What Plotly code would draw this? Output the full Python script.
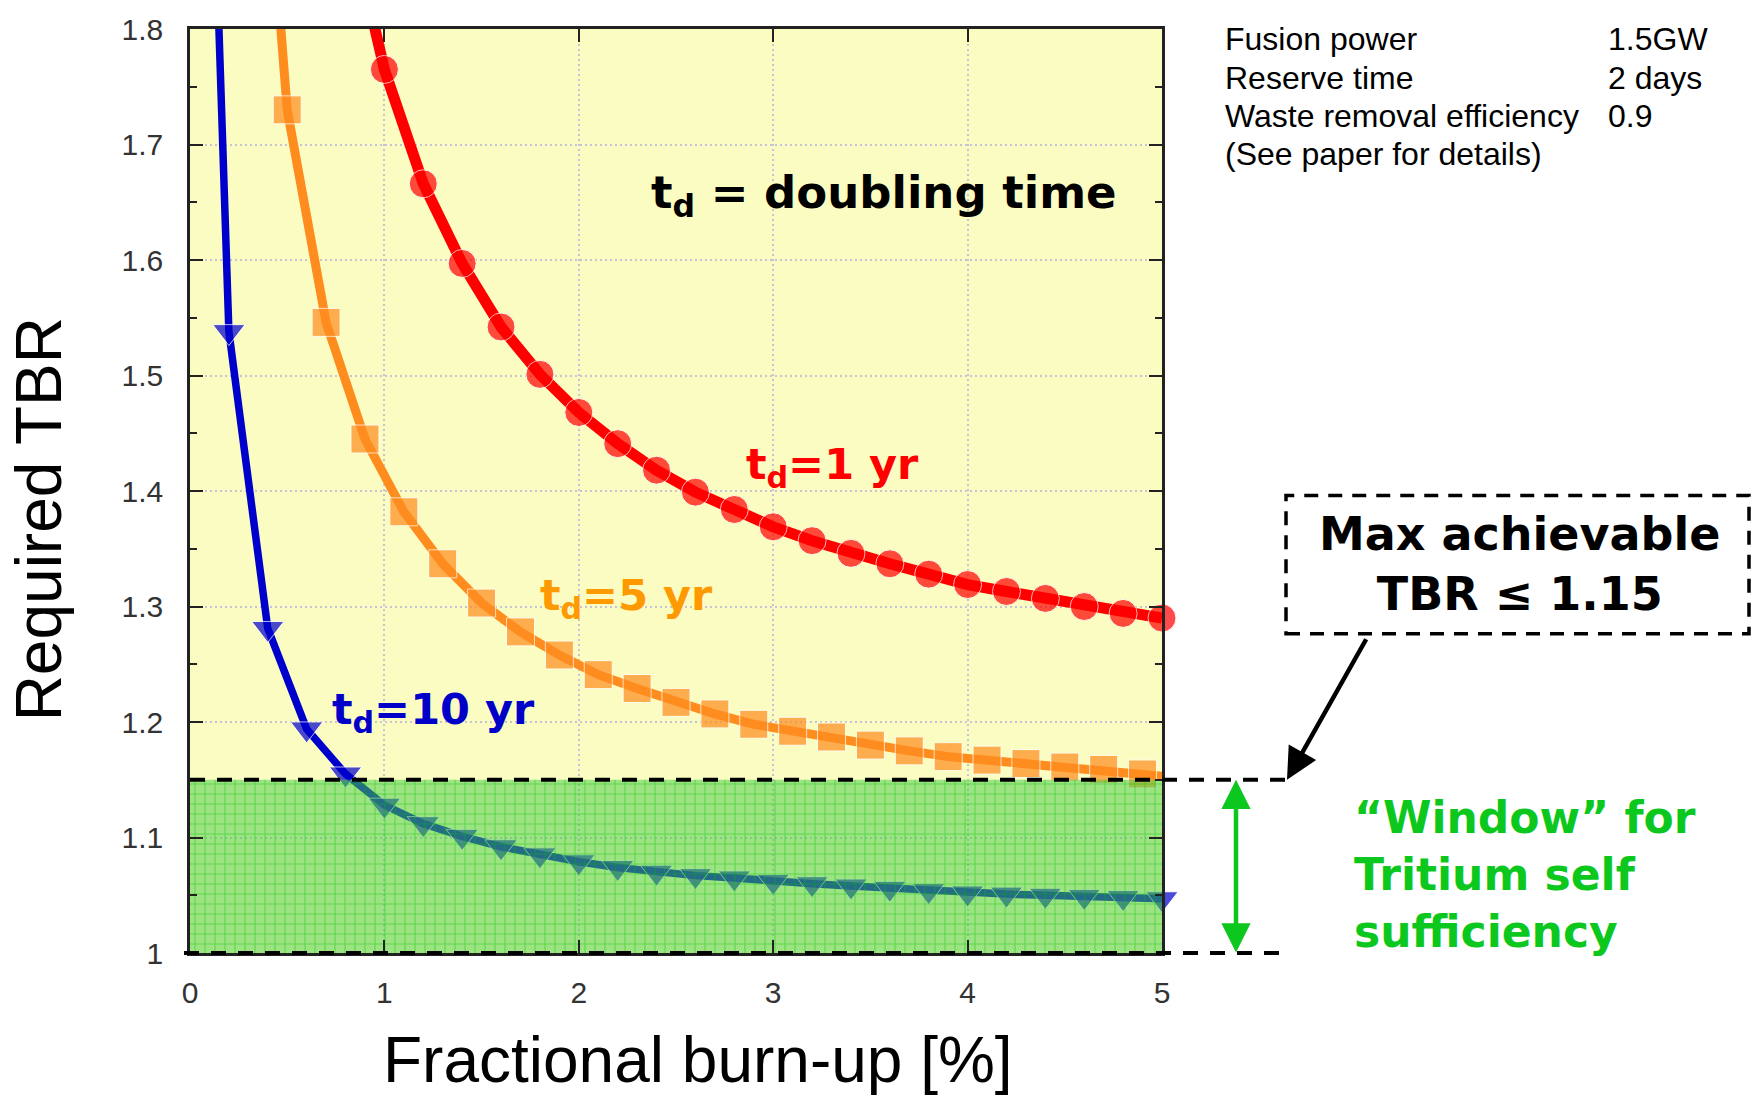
import plotly.graph_objects as go

# ---------------- data ----------------
burnup_td1 = [0.8, 1.0, 1.2, 1.4, 1.6, 1.8, 2.0, 2.2, 2.4, 2.6, 2.8, 3.0,
              3.2, 3.4, 3.6, 3.8, 4.0, 4.2, 4.4, 4.6, 4.8, 5.0]
tbr_td1 = [1.910, 1.765, 1.666, 1.597, 1.542, 1.501, 1.468, 1.441, 1.418, 1.399,
           1.384, 1.369, 1.357, 1.346, 1.337, 1.328, 1.319, 1.313, 1.307, 1.300,
           1.294, 1.290]

burnup_td5 = [0.3, 0.5, 0.7, 0.9, 1.1, 1.3, 1.5, 1.7, 1.9, 2.1, 2.3, 2.5, 2.7,
              2.9, 3.1, 3.3, 3.5, 3.7, 3.9, 4.1, 4.3, 4.5, 4.7, 4.9, 5.0]
tbr_td5 = [2.160, 1.730, 1.546, 1.445, 1.382, 1.337, 1.303, 1.278, 1.258, 1.241,
           1.229, 1.217, 1.207, 1.198, 1.192, 1.187, 1.180, 1.175, 1.170, 1.167,
           1.164, 1.161, 1.159, 1.155, 1.153]

burnup_td10 = [0.1, 0.2, 0.4, 0.6, 0.8, 1.0, 1.2, 1.4, 1.6, 1.8, 2.0, 2.2, 2.4,
               2.6, 2.8, 3.0, 3.2, 3.4, 3.6, 3.8, 4.0, 4.2, 4.4, 4.6, 4.8, 5.0]
tbr_td10 = [2.050, 1.538, 1.281, 1.194, 1.155, 1.128, 1.112, 1.101, 1.092, 1.085,
            1.079, 1.074, 1.070, 1.067, 1.065, 1.062, 1.060, 1.058, 1.056, 1.054,
            1.052, 1.051, 1.050, 1.049, 1.048, 1.047]

x_range = [0, 5]
y_range = [1.0, 1.8]
window_low = 1.0
window_high = 1.15

info_labels = ["Fusion power", "Reserve time", "Waste removal efficiency",
               "(See paper for details)"]
info_values = ["1.5GW", "2 days", "0.9", ""]

# ---------------- geometry helpers ----------------
W, H = 1752, 1096
L, R, T, B = 190, 590, 24, 143
PW = W - L - R
PH = H - T - B


def pxx(px):
    return (px - L) / PW


def pxy(py):
    return (H - B - py) / PH


def yfrac(v):
    return (v - y_range[0]) / (y_range[1] - y_range[0])


BOLD = "DejaVu Sans"
REG = "Liberation Sans, Arial, sans-serif"


def marker_sizes(xs, ys, size, skip_last=False):
    out = []
    for i, (xv, yv) in enumerate(zip(xs, ys)):
        ok = y_range[0] <= yv <= y_range[1]
        if skip_last and i == len(xs) - 1:
            ok = False
        out.append(size if ok else 0)
    return out


fig = go.Figure()

fig.add_trace(go.Scatter(
    x=burnup_td1, y=tbr_td1, mode="lines+markers", cliponaxis=False,
    line=dict(color="#ff0000", width=11),
    marker=dict(symbol="circle", color="#ff0000",
                size=marker_sizes(burnup_td1, tbr_td1, 28)),
    hoverinfo="skip", showlegend=False))

fig.add_trace(go.Scatter(
    x=burnup_td5, y=tbr_td5, mode="lines+markers", cliponaxis=False,
    line=dict(color="#ff8c1e", width=9),
    marker=dict(symbol="square", color="#ff8c1e",
                size=marker_sizes(burnup_td5, tbr_td5, 28, skip_last=True)),
    hoverinfo="skip", showlegend=False))

fig.add_trace(go.Scatter(
    x=burnup_td10, y=tbr_td10, mode="lines+markers", cliponaxis=False,
    line=dict(color="#0000cc", width=7.5),
    marker=dict(symbol="triangle-down", color="#0000cc",
                size=marker_sizes(burnup_td10, tbr_td10, 28)),
    hoverinfo="skip", showlegend=False))

# green self-sufficiency window (drawn over the curves)
fig.add_trace(go.Scatter(
    x=[x_range[0], x_range[1], x_range[1], x_range[0], x_range[0]],
    y=[window_low, window_low, window_high, window_high, window_low],
    mode="lines", line=dict(width=0, color="rgba(0,0,0,0)"),
    fill="toself", fillcolor="rgba(70,205,70,0.52)",
    fillpattern=dict(shape="+", size=10, solidity=0.2,
                     fgcolor="rgba(0,190,0,0.8)",
                     bgcolor="rgba(70,205,70,0.52)"),
    hoverinfo="skip", showlegend=False))

shapes = []
dash_line = dict(color="black", width=4, dash="15px,12px")
shapes.append(dict(type="line", xref="paper", yref="paper",
                   x0=0, x1=pxx(1287), y0=yfrac(window_high), y1=yfrac(window_high),
                   line=dash_line, layer="above"))
shapes.append(dict(type="line", xref="paper", yref="paper",
                   x0=pxx(184), x1=pxx(1287), y0=yfrac(window_low), y1=yfrac(window_low),
                   line=dash_line, layer="above"))
shapes.append(dict(type="rect", xref="paper", yref="paper",
                   x0=pxx(1286), x1=pxx(1749), y0=pxy(632), y1=pxy(493),
                   line=dict(color="black", width=3.5, dash="14px,10px"),
                   fillcolor="rgba(0,0,0,0)", layer="above"))

ann = []
ann.append(dict(x=2.36, y=1.656, xref="x", yref="y", xanchor="left", yanchor="middle",
                text="<b>t<sub>d</sub> = doubling time</b>", showarrow=False,
                font=dict(family=BOLD, size=45, color="black")))
ann.append(dict(x=2.85, y=1.421, xref="x", yref="y", xanchor="left", yanchor="middle",
                text="<b>t<sub>d</sub>=1 yr</b>", showarrow=False,
                font=dict(family=BOLD, size=43, color="#ff0000")))
ann.append(dict(x=1.79, y=1.307, xref="x", yref="y", xanchor="left", yanchor="middle",
                text="<b>t<sub>d</sub>=5 yr</b>", showarrow=False,
                font=dict(family=BOLD, size=43, color="#ff9900")))
ann.append(dict(x=0.72, y=1.209, xref="x", yref="y", xanchor="left", yanchor="middle",
                text="<b>t<sub>d</sub>=10 yr</b>", showarrow=False,
                font=dict(family=BOLD, size=43, color="#0000c8")))

ann.append(dict(x=pxx(1519), y=pxy(562), xref="paper", yref="paper",
                xanchor="center", yanchor="middle", align="center",
                text="<b>Max achievable</b><br><b>TBR ≤ 1.15</b>", showarrow=False,
                font=dict(family=BOLD, size=46, color="black")))
ann.append(dict(x=pxx(1287), y=yfrac(window_high), xref="paper", yref="paper",
                ax=80, ay=-142, axref="pixel", ayref="pixel", text="",
                showarrow=True, arrowhead=2, arrowsize=1.4, arrowwidth=4.5,
                arrowcolor="black", standoff=0, startstandoff=0))
ann.append(dict(x=pxx(1236), y=yfrac(window_high), xref="paper", yref="paper",
                ax=0, ay=PH * (yfrac(window_high) - yfrac(window_low)),
                axref="pixel", ayref="pixel", text="",
                showarrow=True, arrowhead=2, arrowside="end+start", arrowsize=1.3,
                arrowwidth=4.5, arrowcolor="#0cc81e", standoff=0, startstandoff=0))
ann.append(dict(x=pxx(1352), y=pxy(874), xref="paper", yref="paper",
                xanchor="left", yanchor="middle", align="left",
                text="<b>\u201cWindow\u201d for</b><br><b>Tritium self</b><br><b>sufficiency</b>",
                showarrow=False, font=dict(family=BOLD, size=44, color="#0cc81e")))

info_y = [34.5, 73.0, 111.0, 149.5]
for lab, val, yy in zip(info_labels, info_values, info_y):
    ann.append(dict(x=pxx(1223), y=pxy(yy), xref="paper", yref="paper",
                    xanchor="left", yanchor="middle", text=lab, showarrow=False,
                    font=dict(family=REG, size=32, color="black")))
    if val:
        ann.append(dict(x=pxx(1606), y=pxy(yy), xref="paper", yref="paper",
                        xanchor="left", yanchor="middle", text=val, showarrow=False,
                        font=dict(family=REG, size=32, color="black")))

ann.append(dict(x=pxx(698), y=pxy(1061), xref="paper", yref="paper",
                xanchor="center", yanchor="middle", text="Fractional burn-up [%]",
                showarrow=False, font=dict(family=REG, size=64, color="black")))
ann.append(dict(x=pxx(38.5), y=pxy(517.5), xref="paper", yref="paper",
                xanchor="center", yanchor="middle", text="Required TBR", textangle=-90,
                showarrow=False, font=dict(family=REG, size=64, color="black")))

axis_common = dict(
    ticks="inside", ticklen=13, tickwidth=2, tickcolor="#222",
    showline=True, linecolor="#222", linewidth=2.5, mirror="ticks",
    showgrid=True, gridcolor="#c4c4d6", gridwidth=2, griddash="2px,3px",
    zeroline=False, tickfont=dict(family=REG, size=30, color="#333"),
)

fig.update_layout(
    width=W, height=H, autosize=False,
    margin=dict(l=L, r=R, t=T, b=B, pad=0),
    paper_bgcolor="white", plot_bgcolor="#fbfcc2",
    showlegend=False,
    xaxis=dict(range=x_range, tick0=0, dtick=1, ticklabelstandoff=11, **axis_common),
    yaxis=dict(range=y_range, tick0=1.0, dtick=0.1, ticklabelstandoff=18,
               minor=dict(dtick=0.05, ticks="inside", ticklen=7, tickwidth=2,
                          tickcolor="#222", showgrid=False),
               **axis_common),
    shapes=shapes, annotations=ann,
)

fig.write_html("out.html", config={"displayModeBar": False},
               post_script="document.body.style.margin='0px';")
